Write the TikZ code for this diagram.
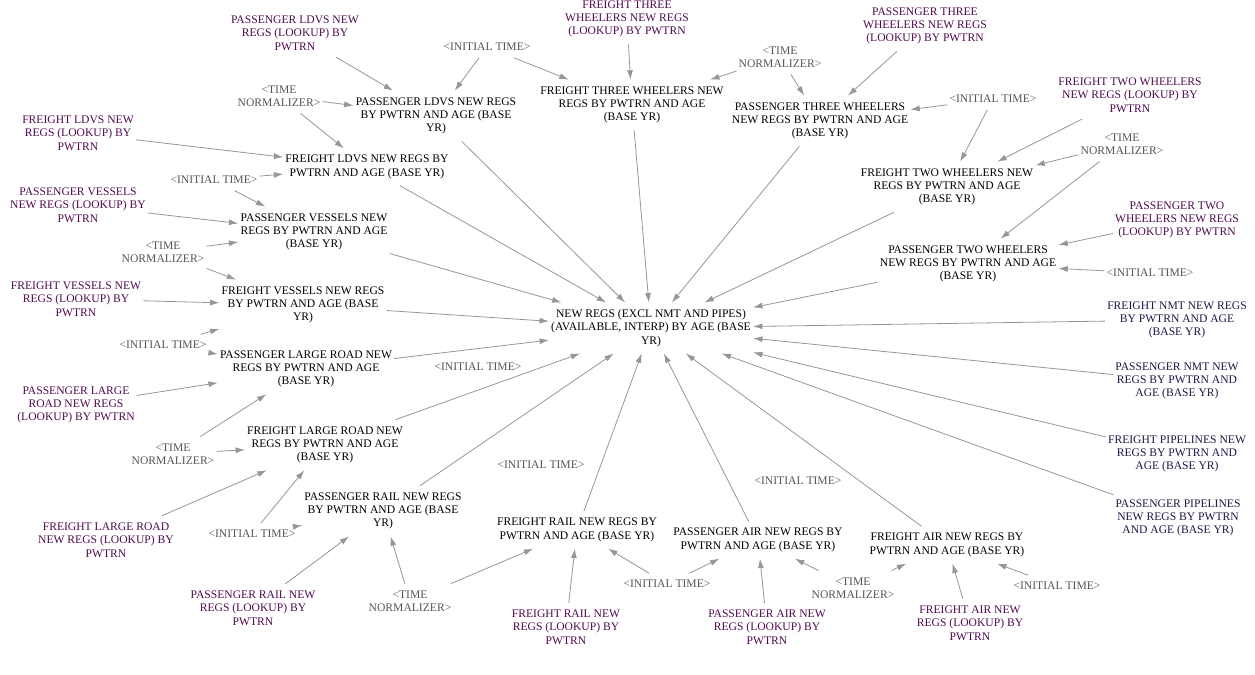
\documentclass[tikz,border=0pt]{standalone}
\usepackage{fontspec}
\setmainfont{Liberation Serif}
\usepackage{xcolor}
\usepackage{tikz}
\usetikzlibrary{arrows.meta}

\definecolor{lkpcol}{RGB}{80,10,80}
\definecolor{nmtcol}{RGB}{25,25,70}
\definecolor{shdcol}{RGB}{85,85,85}
\definecolor{cnxcol}{RGB}{150,150,150}

\begin{document}
\begin{tikzpicture}[x=0.75pt,y=0.75pt,yscale=-1,xscale=1,
  var/.style={align=center,inner xsep=1.5pt,inner ysep=5pt,font=\fontsize{8.7}{10}\selectfont},
  lkp/.style={var,text=lkpcol},
  nmt/.style={var,text=nmtcol},
  shd/.style={var,text=shdcol},
  cnx/.style={draw=cnxcol,line width=0.6pt,-{Latex[length=7pt,width=4.5pt]}}]
\useasboundingbox (0,0) rectangle (1255,674);

% Text Node
\node[var] (newregs) at (651,328) {NEW REGS (EXCL NMT AND PIPES)\\(AVAILABLE, INTERP) BY AGE (BASE\\YR)};

% top row
\node[lkp] (pldvlk) at (295,33) {PASSENGER LDVS NEW\\REGS (LOOKUP) BY\\PWTRN};
\node[shd] (init1) at (487,47) {<INITIAL TIME>};
\node[lkp] (fthwlk) at (627,19) {FREIGHT THREE\\WHEELERS NEW REGS\\(LOOKUP) BY PWTRN};
\node[shd] (tnorm1) at (780,57) {<TIME\\NORMALIZER>};
\node[lkp] (pthwlk) at (925,26) {PASSENGER THREE\\WHEELERS NEW REGS\\(LOOKUP) BY PWTRN};
\node[shd] (tnorm2) at (279,96) {<TIME\\NORMALIZER>};
\node[var] (pldv) at (436,116) {PASSENGER LDVS NEW REGS\\BY PWTRN AND AGE (BASE\\YR)};
\node[var] (fthw) at (632,105) {FREIGHT THREE WHEELERS NEW\\REGS BY PWTRN AND AGE\\(BASE YR)};
\node[var] (pthw) at (820,121) {PASSENGER THREE WHEELERS\\NEW REGS BY PWTRN AND AGE\\(BASE YR)};
\node[shd] (init2) at (993,99) {<INITIAL TIME>};
\node[lkp] (ftwolk) at (1130,95) {FREIGHT TWO WHEELERS\\NEW REGS (LOOKUP) BY\\PWTRN};
\node[shd] (tnorm3) at (1122,144) {<TIME\\NORMALIZER>};

% left side
\node[lkp] (fldvlk) at (78,133) {FREIGHT LDVS NEW\\REGS (LOOKUP) BY\\PWTRN};
\node[var] (fldv) at (367,167) {FREIGHT LDVS NEW REGS BY\\PWTRN AND AGE (BASE YR)};
\node[shd] (init3) at (214,180) {<INITIAL TIME>};
\node[lkp] (pveslk) at (78,205) {PASSENGER VESSELS\\NEW REGS (LOOKUP) BY\\PWTRN};
\node[var] (pves) at (314,232) {PASSENGER VESSELS NEW\\REGS BY PWTRN AND AGE\\(BASE YR)};
\node[shd] (tnorm4) at (163,252) {<TIME\\NORMALIZER>};
\node[lkp] (fveslk) at (76,299) {FREIGHT VESSELS NEW\\REGS (LOOKUP) BY\\PWTRN};
\node[var] (fves) at (303,305) {FREIGHT VESSELS NEW REGS\\BY PWTRN AND AGE (BASE\\YR)};
\node[shd] (init5) at (163,345) {<INITIAL TIME>};
\node[var] (plr) at (306,369) {PASSENGER LARGE ROAD NEW\\REGS BY PWTRN AND AGE\\(BASE YR)};
\node[shd] (init6) at (478,367) {<INITIAL TIME>};
\node[lkp] (plrlk) at (76,405) {PASSENGER LARGE\\ROAD NEW REGS\\(LOOKUP) BY PWTRN};
\node[var] (flr) at (325,445) {FREIGHT LARGE ROAD NEW\\REGS BY PWTRN AND AGE\\(BASE YR)};
\node[shd] (tnorm5) at (173,454) {<TIME\\NORMALIZER>};
\node[lkp] (flrlk) at (106,540) {FREIGHT LARGE ROAD\\NEW REGS (LOOKUP) BY\\PWTRN};

% right side
\node[var] (ftwo) at (947,187) {FREIGHT TWO WHEELERS NEW\\REGS BY PWTRN AND AGE\\(BASE YR)};
\node[lkp] (ptwolk) at (1177,220) {PASSENGER TWO\\WHEELERS NEW REGS\\(LOOKUP) BY PWTRN};
\node[var] (ptwo) at (968,264) {PASSENGER TWO WHEELERS\\NEW REGS BY PWTRN AND AGE\\(BASE YR)};
\node[shd] (init4) at (1150,273) {<INITIAL TIME>};
\node[nmt] (fnmt) at (1177,320) {FREIGHT NMT NEW REGS\\BY PWTRN AND AGE\\(BASE YR)};
\node[nmt] (pnmt) at (1177,381) {PASSENGER NMT NEW\\REGS BY PWTRN AND\\AGE (BASE YR)};
\node[nmt] (fpl) at (1177,454) {FREIGHT PIPELINES NEW\\REGS BY PWTRN AND\\AGE (BASE YR)};
\node[nmt] (ppl) at (1178,518) {PASSENGER PIPELINES\\NEW REGS BY PWTRN\\AND AGE (BASE YR)};

% bottom row
\node[shd] (init7) at (541,465) {<INITIAL TIME>};
\node[shd] (init8) at (798,481) {<INITIAL TIME>};
\node[var] (prail) at (383,511) {PASSENGER RAIL NEW REGS\\BY PWTRN AND AGE (BASE\\YR)};
\node[var] (frail) at (577,530) {FREIGHT RAIL NEW REGS BY\\PWTRN AND AGE (BASE YR)};
\node[var] (pair) at (758,540) {PASSENGER AIR NEW REGS BY\\PWTRN AND AGE (BASE YR)};
\node[var] (fair) at (947,545) {FREIGHT AIR NEW REGS BY\\PWTRN AND AGE (BASE YR)};
\node[shd] (init9) at (252,534) {<INITIAL TIME>};
\node[shd] (init10) at (667,584) {<INITIAL TIME>};
\node[shd] (tnorm6) at (410,601) {<TIME\\NORMALIZER>};
\node[shd] (tnorm7) at (853,588) {<TIME\\NORMALIZER>};
\node[shd] (init11) at (1057,586) {<INITIAL TIME>};
\node[lkp] (prailk) at (253,608) {PASSENGER RAIL NEW\\REGS (LOOKUP) BY\\PWTRN};
\node[lkp] (frailk) at (566,627) {FREIGHT RAIL NEW\\REGS (LOOKUP) BY\\PWTRN};
\node[lkp] (pairlk) at (767,627) {PASSENGER AIR NEW\\REGS (LOOKUP) BY\\PWTRN};
\node[lkp] (fairlk) at (970,623) {FREIGHT AIR NEW\\REGS (LOOKUP) BY\\PWTRN};

% inputs of each mode
\foreach \src/\dst in {pldvlk/pldv, init1/pldv, init1/fthw, fthwlk/fthw, tnorm1/fthw,
  tnorm1/pthw, pthwlk/pthw, init2/pthw, init2/ftwo, ftwolk/ftwo, tnorm3/ftwo,
  tnorm3/ptwo, ptwolk/ptwo, init4/ptwo, tnorm2/pldv, tnorm2/fldv, fldvlk/fldv,
  init3/fldv, init3/pves, pveslk/pves, tnorm4/pves, tnorm4/fves, fveslk/fves,
  init5/fves, init5/plr, plrlk/plr, tnorm5/plr, tnorm5/flr, flrlk/flr, init9/flr,
  init9/prail, prailk/prail, tnorm6/prail, tnorm6/frail, frailk/frail, init10/frail,
  init10/pair, pairlk/pair, tnorm7/pair, tnorm7/fair, fairlk/fair, init11/fair}
  \draw[cnx] (\src) -- (\dst);

% modes into the total
\foreach \src in {pldv, fldv, fthw, pthw, ftwo, ptwo, fnmt, pnmt, fpl, ppl,
  fair, pair, frail, prail, flr, plr, fves, pves}
  \draw[cnx] (\src) -- (newregs);

\end{tikzpicture}
\end{document}
